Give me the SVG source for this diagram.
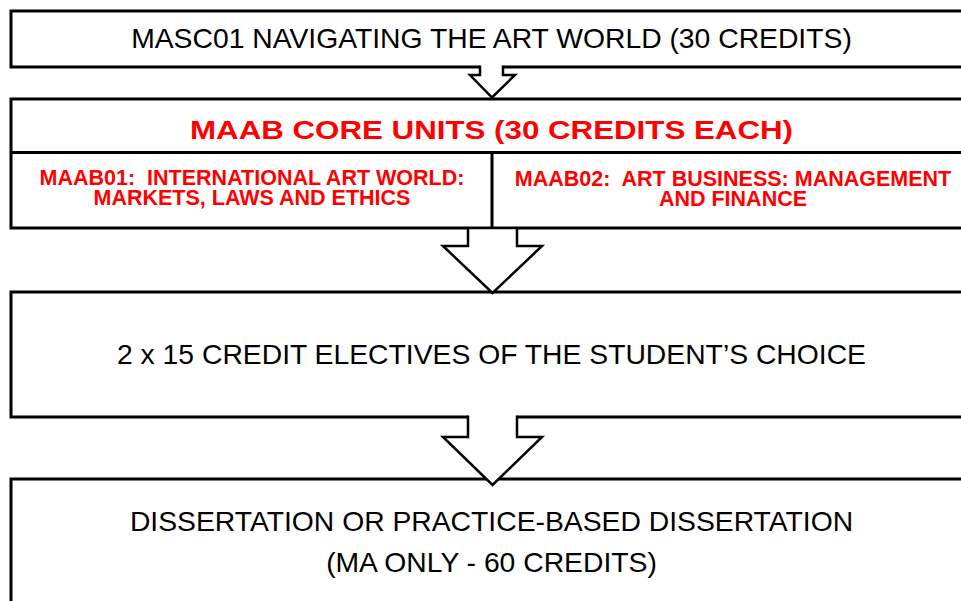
<svg xmlns="http://www.w3.org/2000/svg" width="961" height="601" viewBox="0 0 961 601">
<style>
.box{fill:#fff;stroke:#000;stroke-width:3}
.ln{fill:none;stroke:#000;stroke-width:3}
.t{font-family:"Liberation Sans",Arial,sans-serif;font-size:28.3px;fill:#000;text-anchor:middle}
.r{font-family:"Liberation Sans",Arial,sans-serif;font-weight:bold;fill:#ff0000;text-anchor:middle;white-space:pre}
.af{fill:#fff;stroke:none}
.as{fill:none;stroke:#000;stroke-width:2.5;stroke-linejoin:miter}
</style>
<rect width="961" height="601" fill="#fff"/>
<g id="masc01">
<rect class="box" x="11" y="11" width="980" height="56"/>
<text class="t" x="491.5" y="48">MASC01 NAVIGATING THE ART WORLD (30 CREDITS)</text>
</g>
<g id="core">
<rect class="box" x="11" y="99" width="980" height="129"/>
<line class="ln" x1="11" y1="152.5" x2="991" y2="152.5"/>
<line class="ln" x1="492" y1="152.5" x2="492" y2="228"/>
<text class="r" x="491.5" y="139" font-size="26" textLength="603" lengthAdjust="spacingAndGlyphs">MAAB CORE UNITS (30 CREDITS EACH)</text>
</g>
<g id="maab01">
<text class="r" font-size="21.5"><tspan x="252" y="184.5">MAAB01:  INTERNATIONAL ART WORLD:</tspan><tspan x="252" y="205">MARKETS, LAWS AND ETHICS</tspan></text>
</g>
<g id="maab02">
<text class="r" font-size="21.5"><tspan x="733" y="185.5">MAAB02:  ART BUSINESS: MANAGEMENT</tspan><tspan x="733" y="206">AND FINANCE</tspan></text>
</g>
<g id="electives">
<rect class="box" x="11" y="292" width="980" height="125"/>
<text class="t" x="491.5" y="364">2 x 15 CREDIT ELECTIVES OF THE STUDENT’S CHOICE</text>
</g>
<g id="dissertation">
<rect class="box" x="11" y="479" width="980" height="140"/>
<text class="t" x="491.5" y="531">DISSERTATION OR PRACTICE-BASED DISSERTATION</text>
<text class="t" x="491.5" y="572">(MA ONLY - 60 CREDITS)</text>
</g>
<g id="connectors">
<polygon class="af" points="480,65 503,65 503,75 515,75 492,97.5 470,75 480,75"/>
<polyline class="as" points="480,65.5 480,75 470,75 492,97.5 515,75 503,75 503,65.5"/>
<polygon class="af" points="468,229.5 517,229.5 517,246 542,246 492.5,293 443,246 468,246"/>
<polyline class="as" points="468,229 468,246 443,246 492.5,293 542,246 517,246 517,229"/>
<polygon class="af" points="468,415 517,415 517,437 542,437 492.5,485 443,437 468,437"/>
<polyline class="as" points="468,415.5 468,437 443,437 492.5,485 542,437 517,437 517,415.5"/>
</g>
</svg>
